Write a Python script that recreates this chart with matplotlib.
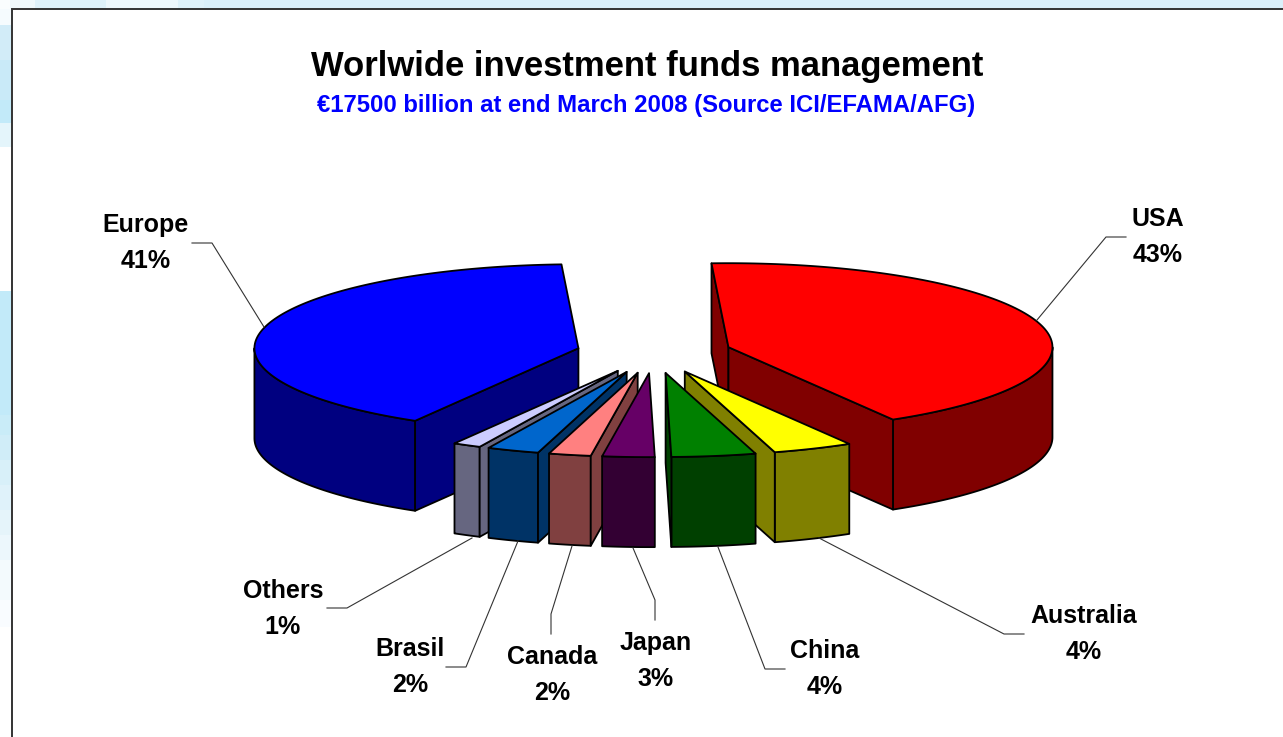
import numpy as np
import matplotlib.pyplot as plt
from matplotlib.patches import Polygon, Rectangle

# slices clockwise from the back of the pie
countries = ['USA', 'Australia', 'China', 'Japan', 'Canada', 'Brasil', 'Others', 'Europe']
pct_labels = [43, 4, 4, 3, 2, 2, 1, 41]
# slice sizes as drawn in the picture (%), they differ a bit from the printed labels
shares = [42.4, 4.0, 4.2, 2.6, 2.1, 2.6, 1.4, 40.8]

top_colors = ['#FF0000', '#FFFF00', '#008000', '#660066', '#FF8080', '#0066CC', '#CCCCFF', '#0000FF']
side_colors = ['#800000', '#808000', '#004000', '#330033', '#804040', '#003366', '#666680', '#000080']

# label centre and leader line, in pixels
label_pos = [(1158, 237), (1084, 634), (825, 669), (656, 661), (552, 675), (410, 667), (283, 609), (146, 243)]
leaders = [
    [(1037, 320), (1106, 237), (1126, 237)],
    [(819, 538), (1004, 634), (1024, 634)],
    [(718, 547), (765, 669), (785, 669)],
    [(633, 548), (655, 600), (655, 620)],
    [(572, 546), (551, 614), (551, 634)],
    [(518, 541), (466, 667), (446, 667)],
    [(472, 538), (347, 608), (327, 608)],
    [(264, 327), (212, 243), (192, 243)],
]

# pale blue slide background left around the chart
left_strip = [(0, 25, '#F5FBFE'), (25, 60, '#D2ECF8'), (60, 100, '#C9EAF8'), (100, 123, '#C2EAF9'),
              (123, 147, '#E4F5FB'), (147, 291, '#FFFFFF'), (291, 415, '#C2EAF9'), (415, 435, '#C9ECF8'),
              (435, 460, '#D0EDF8'), (460, 485, '#D8F0F9'), (485, 510, '#DFF2FA'), (510, 535, '#E5F4FA'),
              (535, 560, '#ECF7FC'), (560, 600, '#F3FAFD'), (600, 627, '#F9FCFF'), (627, 737, '#FFFFFF')]
top_strip = [(0, 10, '#FAFDFE'), (10, 35, '#F0F9FC'), (35, 106, '#DFF2FA'), (106, 178, '#EEF8FC'),
             (178, 204, '#DFF2FA'), (204, 1283, '#DAF0FA')]

cx, cy = 654, 353
rx, ry = 324, 84
depth = 90
explode = 0.24
start_angle = 93

plt.rcParams['font.family'] = ['Liberation Sans', 'DejaVu Sans']
fig = plt.figure(figsize=(12.83, 7.37), dpi=100)
ax = fig.add_axes([0, 0, 1, 1])
ax.set_xlim(0, 1283)
ax.set_ylim(737, 0)
ax.axis('off')

for y0, y1, c in left_strip:
    ax.add_patch(Rectangle((0, y0), 12, y1 - y0, fc=c, ec='none'))
for x0, x1, c in top_strip:
    ax.add_patch(Rectangle((x0, 0), x1 - x0, 9, fc=c, ec='none'))
ax.add_patch(Rectangle((12, 9), 1280, 740, fc='white', ec='#333333', lw=1.4))


def rim_point(t, ox, oy):
    return ox + rx * np.cos(np.radians(t)), oy - ry * np.sin(np.radians(t))


sweeps = 360 * np.array(shares) / sum(shares)
ends = start_angle - np.cumsum(sweeps)
starts = ends + sweeps
mids = (starts + ends) / 2

# paint from the back of the pie to the front
order = np.argsort(-np.sin(np.radians(mids)))
line = dict(ec='black', lw=1.3, joinstyle='round')
for i in order:
    ox = cx + explode * rx * np.cos(np.radians(mids[i]))
    oy = cy - explode * ry * np.sin(np.radians(mids[i]))

    # outer wall, only the part on the viewer's side
    t0 = starts[i] if starts[i] <= 0 else 0
    t1 = max(ends[i], -180)
    if t0 > t1:
        tt = np.linspace(t0, t1, 80)
        x, y = rim_point(tt, ox, oy)
        pts = np.r_[np.c_[x, y], np.c_[x[::-1], y[::-1] + depth]]
        ax.add_patch(Polygon(pts, fc=side_colors[i], **line))

    # cut faces
    if np.cos(np.radians(starts[i])) < 0:
        x, y = rim_point(starts[i], ox, oy)
        pts = [(ox, oy), (x, y), (x, y + depth), (ox, oy + depth)]
        ax.add_patch(Polygon(pts, fc=side_colors[i], **line))
    if np.cos(np.radians(ends[i])) > 0:
        x, y = rim_point(ends[i], ox, oy)
        pts = [(ox, oy), (x, y), (x, y + depth), (ox, oy + depth)]
        ax.add_patch(Polygon(pts, fc=side_colors[i], **line))

    # top face
    tt = np.linspace(starts[i], ends[i], 120)
    x, y = rim_point(tt, ox, oy)
    pts = np.r_[[(ox, oy)], np.c_[x, y]]
    ax.add_patch(Polygon(pts, fc=top_colors[i], **line))

for i in range(len(countries)):
    xs, ys = zip(*leaders[i])
    ax.plot(xs, ys, color='#333333', lw=0.8)
    ax.text(label_pos[i][0], label_pos[i][1], countries[i] + '\n' + str(pct_labels[i]) + '%',
            ha='center', va='center', ma='center', fontsize=18, fontweight='bold', linespacing=1.6)

ax.text(647, 66, 'Worlwide investment funds management', ha='center', va='center',
        fontsize=24.9, fontweight='bold', color='black')
ax.text(646, 105, '€17500 billion at end March 2008 (Source ICI/EFAMA/AFG)', ha='center', va='center',
        fontsize=17.2, fontweight='bold', color='#0000FF')

fig.savefig('out.png', dpi=100)
